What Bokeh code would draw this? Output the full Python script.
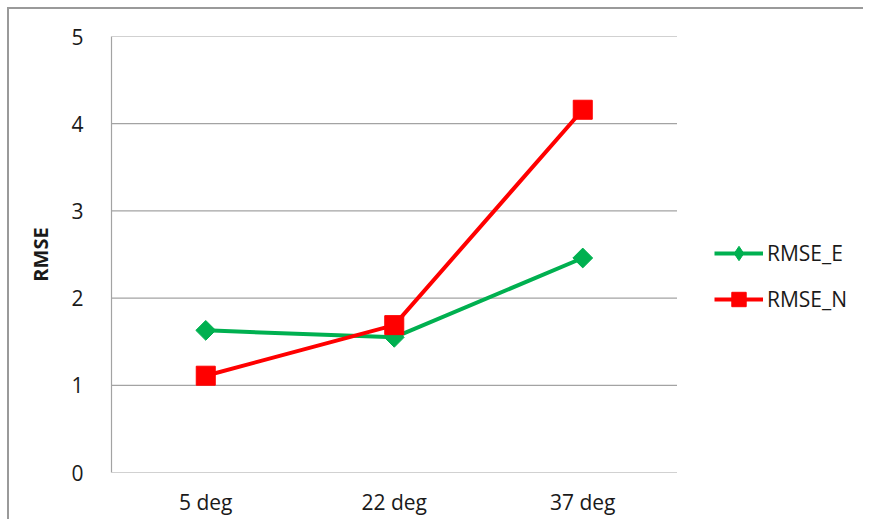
import math

from bokeh.embed import file_html
from bokeh.models import FactorRange, FixedTicker, Legend, LegendItem, Range1d
from bokeh.plotting import figure
from bokeh.resources import INLINE

# Viewing angles and RMSE per component
angles = ["5 deg", "22 deg", "37 deg"]
rmse_e = [1.63, 1.55, 2.46]
rmse_n = [1.11, 1.69, 4.16]
y_ticks = [0, 1, 2, 3, 4, 5]

GREEN = "#00B050"
RED = "#FF0000"
GRID = "#a3a3a3"
FONT = "Open Sans"

# an unlabeled slot after the last angle leaves room for the legend
p = figure(
    x_range=FactorRange(*angles, ""),
    y_range=Range1d(0, 5),
    width=856,
    height=512,
    output_backend="svg",
    toolbar_location=None,
    min_border_left=102,
    min_border_right=0,
    min_border_top=27,
    min_border_bottom=49,
    styles={
        "margin-left": "7px",
        "margin-top": "7px",
        "border-left": "2px solid #9a9a9a",
        "border-top": "2px solid #9a9a9a",
    },
)
p.outline_line_color = None
p.background_fill_color = "white"
p.border_fill_color = "white"

# horizontal grid (and baseline) across the three angle slots only
p.xgrid.grid_line_color = None
p.ygrid.grid_line_color = None
p.segment(x0=[(angles[0], -0.5)] * len(y_ticks),
          x1=[(angles[-1], 0.5)] * len(y_ticks),
          y0=y_ticks, y1=y_ticks,
          line_color=GRID, line_width=1.2)

p.yaxis.ticker = FixedTicker(ticks=y_ticks)
for ax in (p.xaxis[0], p.yaxis[0]):
    ax.axis_line_color = GRID
    ax.axis_line_width = 1.2
    ax.major_tick_line_color = None
    ax.minor_tick_line_color = None
    ax.major_label_text_font = FONT
    ax.major_label_text_font_size = "21px"
    ax.major_label_text_color = "#1a1a1a"
p.xaxis.axis_line_color = None

p.xaxis.major_label_standoff = 9
p.yaxis.major_label_standoff = 22
p.yaxis.axis_label = "RMSE"
p.yaxis.axis_label_text_font = FONT
p.yaxis.axis_label_text_font_style = "bold"
p.yaxis.axis_label_text_font_size = "20px"
p.yaxis.axis_label_text_color = "#1a1a1a"
p.yaxis.axis_label_standoff = 14

# series
e_line = p.line(angles, rmse_e, line_color=GREEN, line_width=4)
e_pts = p.scatter(angles, rmse_e, marker="square", angle=math.pi / 4, size=14,
                  fill_color=GREEN, line_color=GREEN)
n_line = p.line(angles, rmse_n, line_color=RED, line_width=4)
n_pts = p.scatter(angles, rmse_n, marker="square", size=19,
                  fill_color=RED, line_color=RED)

# legend-only marker shapes (no points drawn)
blank = [float("nan")] * len(angles)
e_key = p.scatter(angles, blank, marker="diamond", size=14,
                  fill_color=GREEN, line_color=GREEN)
n_key = p.scatter(angles, blank, marker="square", size=15,
                  fill_color=RED, line_color=RED)

legend = Legend(
    items=[
        LegendItem(label="RMSE_E", renderers=[e_line, e_key]),
        LegendItem(label="RMSE_N", renderers=[n_line, n_key]),
    ],
    location=(603, 155),
    orientation="vertical",
    glyph_width=49,
    glyph_height=36,
    label_height=20,
    label_standoff=4,
    spacing=10,
    padding=0,
    margin=0,
    border_line_color=None,
    background_fill_alpha=0,
    label_text_font=FONT,
    label_text_font_size="21px",
    label_text_color="#1a1a1a",
)
p.add_layout(legend, "center")

open("out.html", "w").write(file_html(p, INLINE))
